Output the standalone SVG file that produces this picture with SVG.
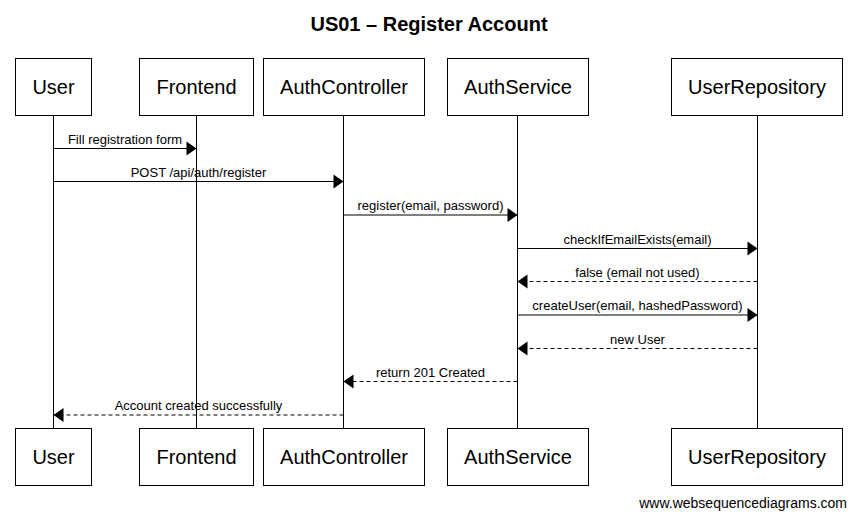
<svg xmlns="http://www.w3.org/2000/svg" width="857" height="519" viewBox="0 0 857 519">
<style>
.box{fill:#fff;stroke:#000;stroke-width:1}
.lbl{font-family:"Liberation Sans",Arial,sans-serif;font-size:20px;fill:#000;text-anchor:middle}
.life{stroke:#000;stroke-width:1}
.msg{stroke:#000;stroke-width:1;fill:none}
.ret{stroke:#000;stroke-width:1;fill:none;stroke-dasharray:4 3}
.mt{font-family:"Liberation Sans",Arial,sans-serif;font-size:13px;fill:#000;text-anchor:middle}
.title{font-family:"Liberation Sans",Arial,sans-serif;font-size:20px;font-weight:bold;fill:#000;text-anchor:middle}
.wm{font-family:"Liberation Sans",Arial,sans-serif;font-size:14px;fill:#000;text-anchor:end}
</style>
<defs>
<marker id="ah" markerUnits="userSpaceOnUse" markerWidth="10" markerHeight="14" refX="10" refY="7" orient="auto" overflow="visible">
<path d="M0,0 L10,7 L0,14 Z" fill="#000" stroke="none"/>
</marker>
</defs>
<rect width="857" height="519" fill="#fff"/>
<text class="title" x="429" y="31">US01 – Register Account</text>
<g id="lifelines">
<line class="life" x1="53.5" y1="115.5" x2="53.5" y2="428.5"/>
<line class="life" x1="196.5" y1="115.5" x2="196.5" y2="428.5"/>
<line class="life" x1="343.5" y1="115.5" x2="343.5" y2="428.5"/>
<line class="life" x1="517.5" y1="115.5" x2="517.5" y2="428.5"/>
<line class="life" x1="757.5" y1="115.5" x2="757.5" y2="428.5"/>
</g>
<g id="node-user">
<rect class="box" x="15.5" y="58.5" width="76" height="57"/>
<text class="lbl" x="53.5" y="94">User</text>
<rect class="box" x="15.5" y="428.5" width="76" height="57"/>
<text class="lbl" x="53.5" y="464">User</text>
</g>
<g id="node-frontend">
<rect class="box" x="139.5" y="58.5" width="114" height="57"/>
<text class="lbl" x="196.5" y="94">Frontend</text>
<rect class="box" x="139.5" y="428.5" width="114" height="57"/>
<text class="lbl" x="196.5" y="464">Frontend</text>
</g>
<g id="node-authcontroller">
<rect class="box" x="263.5" y="58.5" width="161" height="57"/>
<text class="lbl" x="344" y="94">AuthController</text>
<rect class="box" x="263.5" y="428.5" width="161" height="57"/>
<text class="lbl" x="344" y="464">AuthController</text>
</g>
<g id="node-authservice">
<rect class="box" x="447.5" y="58.5" width="141" height="57"/>
<text class="lbl" x="518" y="94">AuthService</text>
<rect class="box" x="447.5" y="428.5" width="141" height="57"/>
<text class="lbl" x="518" y="464">AuthService</text>
</g>
<g id="node-userrepository">
<rect class="box" x="671.5" y="58.5" width="171" height="57"/>
<text class="lbl" x="757" y="94">UserRepository</text>
<rect class="box" x="671.5" y="428.5" width="171" height="57"/>
<text class="lbl" x="757" y="464">UserRepository</text>
</g>
<g id="connectors">
<line class="msg" x1="53.5" y1="148.5" x2="196.5" y2="148.5" marker-end="url(#ah)"/>
<text class="mt" x="125" y="143.5">Fill registration form</text>
<line class="msg" x1="53.5" y1="181.5" x2="343.5" y2="181.5" marker-end="url(#ah)"/>
<text class="mt" x="198.5" y="176.5">POST /api/auth/register</text>
<line class="msg" x1="343.5" y1="215" x2="517.5" y2="215" marker-end="url(#ah)"/>
<text class="mt" x="430.5" y="210">register(email, password)</text>
<line class="msg" x1="517.5" y1="248.5" x2="757.5" y2="248.5" marker-end="url(#ah)"/>
<text class="mt" x="637.5" y="243.5">checkIfEmailExists(email)</text>
<line class="ret" x1="757.5" y1="281.5" x2="517.5" y2="281.5" marker-end="url(#ah)"/>
<text class="mt" x="637.5" y="276.5">false (email not used)</text>
<line class="msg" x1="517.5" y1="315" x2="757.5" y2="315" marker-end="url(#ah)"/>
<text class="mt" x="637.5" y="310">createUser(email, hashedPassword)</text>
<line class="ret" x1="757.5" y1="348.5" x2="517.5" y2="348.5" marker-end="url(#ah)"/>
<text class="mt" x="637.5" y="343.5">new User</text>
<line class="ret" x1="517.5" y1="381.5" x2="343.5" y2="381.5" marker-end="url(#ah)"/>
<text class="mt" x="430.5" y="376.5">return 201 Created</text>
<line class="ret" x1="343.5" y1="415" x2="53.5" y2="415" marker-end="url(#ah)"/>
<text class="mt" x="198.5" y="410">Account created successfully</text>
</g>
<text class="wm" x="847" y="508">www.websequencediagrams.com</text>
</svg>
